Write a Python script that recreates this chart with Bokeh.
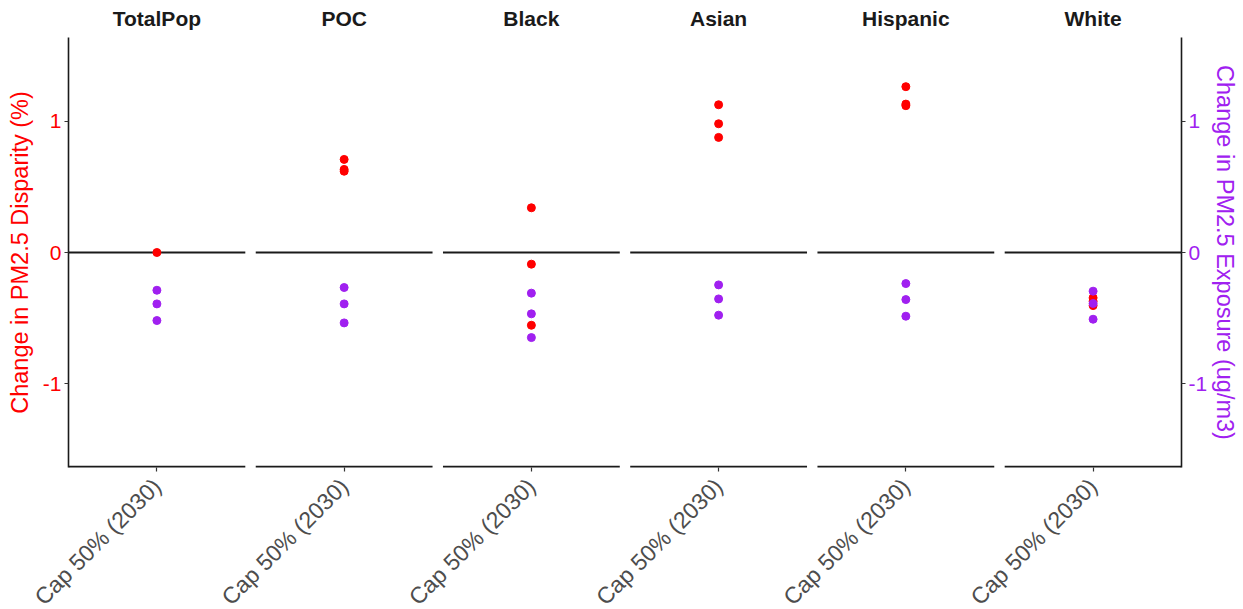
import math
from bokeh.plotting import figure
from bokeh.models import (Range1d, FactorRange, FixedTicker, LinearAxis,
                          CategoricalAxis, ColumnDataSource)
from bokeh.transform import dodge
from bokeh.embed import file_html
from bokeh.resources import INLINE

groups = ["TotalPop", "POC", "Black", "Asian", "Hispanic", "White"]
scenario = "Cap 50% (2030)"

# Change in PM2.5 disparity (%) -- red points
disp_group = ["TotalPop",
              "POC", "POC", "POC",
              "Black", "Black", "Black",
              "Asian", "Asian", "Asian",
              "Hispanic", "Hispanic", "Hispanic",
              "White", "White", "White"]
disp_value = [0.0,
              0.71, 0.634, 0.62,
              0.341, -0.089, -0.555,
              1.127, 0.982, 0.878,
              1.265, 1.132, 1.12,
              -0.346, -0.372, -0.405]

# Change in PM2.5 exposure (ug/m3) -- purple points
expo_group = ["TotalPop", "TotalPop", "TotalPop",
              "POC", "POC", "POC",
              "Black", "Black", "Black",
              "Asian", "Asian", "Asian",
              "Hispanic", "Hispanic", "Hispanic",
              "White", "White", "White"]
expo_value = [-0.288, -0.392, -0.519,
              -0.267, -0.392, -0.537,
              -0.31, -0.468, -0.649,
              -0.247, -0.354, -0.478,
              -0.237, -0.359, -0.486,
              -0.295, -0.389, -0.509]

y_ticks = [-1, 0, 1]
y_tick_labels = {-1: "-1", 0: "0", 1: "1"}

RED = "#FF0000"
PURPLE = "#A020F0"
FONT = "Liberation Sans"
AXIS_COL = "#1A1A1A"

factors = [(g, scenario) for g in groups]
xr = FactorRange(factors=factors, group_padding=0.059, range_padding=0)
yr = Range1d(-1.64, 1.64)

p = figure(x_range=xr, y_range=yr, frame_width=1113, frame_height=430,
           output_backend="svg", toolbar_location=None,
           min_border_left=68, min_border_right=55, min_border_top=37,
           min_border_bottom=0)
p.outline_line_color = None
p.xgrid.visible = False
p.ygrid.visible = False
p.background_fill_color = "white"
p.border_fill_color = "white"

# bottom axis: scenario labels only, line drawn per panel below
ax = p.xaxis[0]
ax.axis_line_color = None
ax.separator_line_color = None
ax.major_tick_line_color = "#333333"
ax.major_tick_line_width = 1.2
ax.major_tick_out = 4
ax.major_tick_in = 0
ax.minor_tick_line_color = None
ax.major_label_orientation = math.pi / 4
ax.major_label_standoff = 11
ax.major_label_text_font = FONT
ax.major_label_text_font_size = "23px"
ax.major_label_text_color = "#4D4D4D"
ax.group_text_font_size = "0px"
ax.group_text_color = None

# facet strip titles on top
top = CategoricalAxis()
top.axis_line_color = None
top.separator_line_color = None
top.major_tick_line_color = None
top.minor_tick_line_color = None
top.major_label_text_font_size = "0px"
top.major_label_text_color = None
top.major_label_standoff = 2
top.group_text_font = FONT
top.group_text_font_size = "21px"
top.group_text_font_style = "bold"
top.group_text_color = "#1A1A1A"
p.add_layout(top, "above")

def style_y(ya, col, label, standoff):
    ya.ticker = FixedTicker(ticks=y_ticks)
    ya.major_label_overrides = y_tick_labels
    ya.axis_line_color = AXIS_COL
    ya.axis_line_width = 1.6
    ya.major_tick_line_color = "#333333"
    ya.major_tick_line_width = 1.2
    ya.major_tick_out = 4
    ya.major_tick_in = 0
    ya.minor_tick_line_color = None
    ya.major_label_standoff = 3
    ya.major_label_text_font = FONT
    ya.major_label_text_font_size = "21px"
    ya.major_label_text_color = col
    ya.axis_label = label
    ya.axis_label_text_font = FONT
    ya.axis_label_text_font_size = "23.5px"
    ya.axis_label_text_font_style = "normal"
    ya.axis_label_text_color = col
    ya.axis_label_standoff = standoff

style_y(p.yaxis[0], RED, "Change in PM2.5 Disparity (%)", 7)
right = LinearAxis()
style_y(right, PURPLE, "Change in PM2.5 Exposure (ug/m3)", 2)
p.add_layout(right, "right")

# per-panel zero line and bottom axis line
panel_src = ColumnDataSource(dict(x=factors,
                                  zero=[0] * len(factors),
                                  bottom=[yr.start] * len(factors)))
p.segment(x0=dodge("x", -0.5, range=xr), x1=dodge("x", 0.5, range=xr),
          y0="zero", y1="zero", source=panel_src, line_color=AXIS_COL, line_width=1.8)
p.segment(x0=dodge("x", -0.5, range=xr), x1=dodge("x", 0.5, range=xr),
          y0="bottom", y1="bottom", source=panel_src, line_color=AXIS_COL, line_width=3.4)

red_src = ColumnDataSource(dict(x=[(g, scenario) for g in disp_group], y=disp_value))
pur_src = ColumnDataSource(dict(x=[(g, scenario) for g in expo_group], y=expo_value))
p.scatter(x="x", y="y", source=red_src, size=8, color=RED)
p.scatter(x="x", y="y", source=pur_src, size=8, color=PURPLE)

open("out.html", "w").write(file_html(p, INLINE))
